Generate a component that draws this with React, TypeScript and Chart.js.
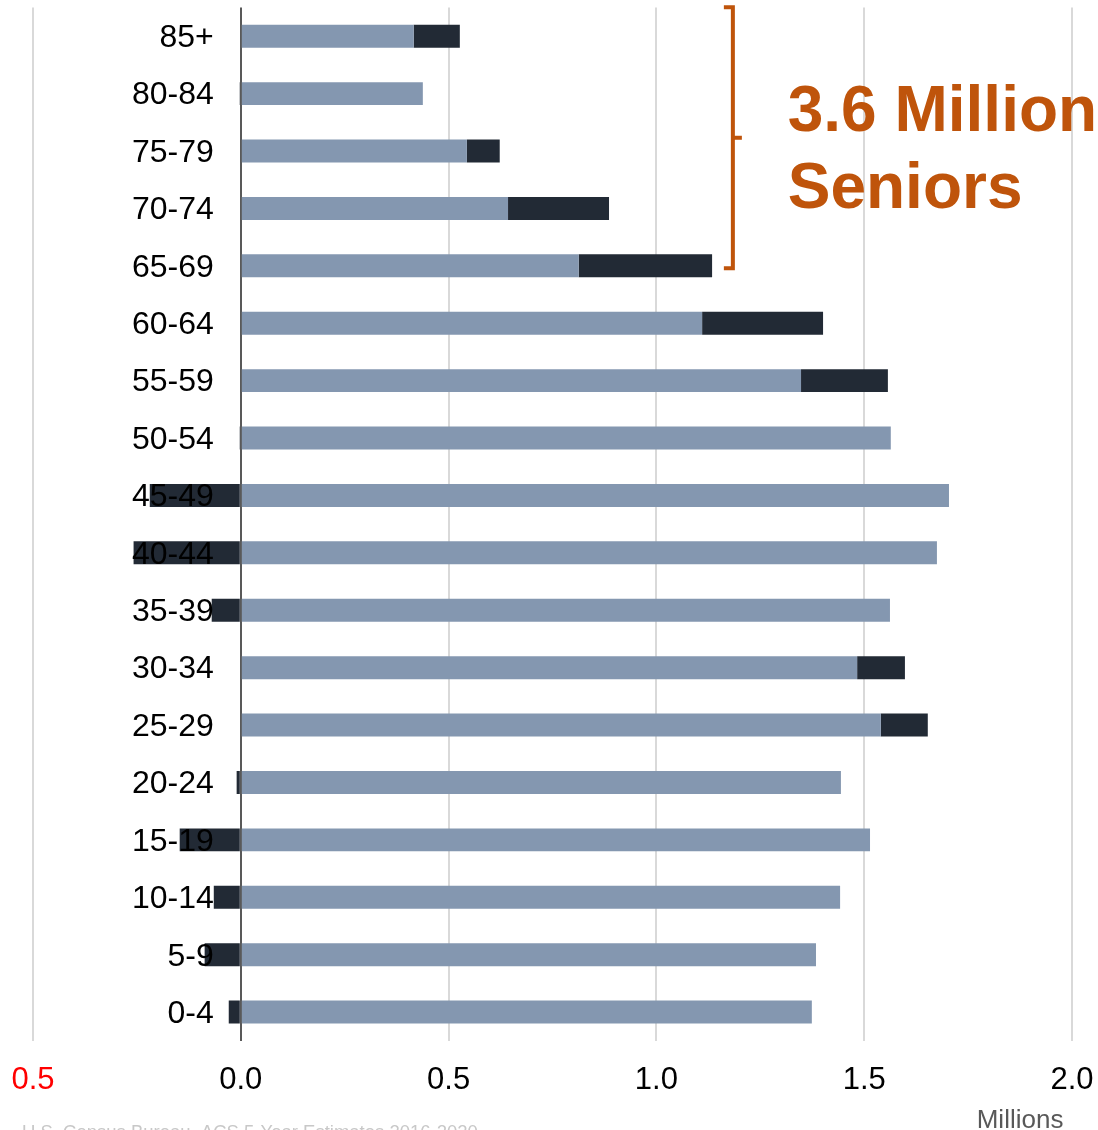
import { useEffect, useRef } from "react";
import { Chart, registerables } from "chart.js";

Chart.register(...registerables);

// Age groups, top to bottom
const ageGroups = [
  "85+", "80-84", "75-79", "70-74", "65-69", "60-64", "55-59", "50-54", "45-49",
  "40-44", "35-39", "30-34", "25-29", "20-24", "15-19", "10-14", "5-9", "0-4",
];
// Base population (millions)
const baseValues = [
  0.416, 0.438, 0.544, 0.643, 0.813, 1.11, 1.348, 1.564, 1.704,
  1.675, 1.562, 1.483, 1.54, 1.444, 1.514, 1.442, 1.384, 1.374,
];
// Change (millions), negative values extend left of zero
const changeValues = [
  0.111, -0.003, 0.079, 0.243, 0.321, 0.291, 0.209, -0.003, -0.219,
  -0.258, -0.07, 0.115, 0.113, -0.01, -0.147, -0.065, -0.087, -0.029,
];
const xTickValues = [-0.5, 0, 0.5, 1.0, 1.5, 2.0];

const calloutLines = ["3.6 Million", "Seniors"];
const bracketFromGroup = "85+";
const bracketToGroup = "65-69";
const bracketXValue = 1.184;
const calloutXValue = 1.316;
const axisTitle = "Millions";
const sourceText = "U.S. Census Bureau, ACS 5-Year Estimates 2016-2020";

const FONT = "'Liberation Sans', Arial, Helvetica, sans-serif";
const ORANGE = "#bf540b";

const overlayPlugin = {
  id: "overlay",
  afterDatasetsDraw(chart: any) {
    const { ctx, scales } = chart;
    const xs = scales.x;
    const ys = scales.y;
    const zeroX = xs.getPixelForValue(0);
    ctx.save();
    // y labels drawn on top of bars
    ctx.font = `32px ${FONT}`;
    ctx.fillStyle = "#000000";
    ctx.textAlign = "right";
    ctx.textBaseline = "middle";
    ageGroups.forEach((g, i) => {
      const y = ys.getPixelForValue(i);
      ctx.fillText(g, zeroX - 27, y + 2);
    });

    // bracket
    const iTop = ageGroups.indexOf(bracketFromGroup);
    const iBot = ageGroups.indexOf(bracketToGroup);
    const yTop = ys.getPixelForValue(iTop) - 29;
    const yBot = ys.getPixelForValue(iBot) + 2.5;
    const bx = xs.getPixelForValue(bracketXValue);
    const yMid = (yTop + yBot) / 2;
    ctx.strokeStyle = ORANGE;
    ctx.lineWidth = 4;
    ctx.lineJoin = "miter";
    ctx.beginPath();
    ctx.moveTo(bx - 9, yTop);
    ctx.lineTo(bx, yTop);
    ctx.lineTo(bx, yBot);
    ctx.lineTo(bx - 9, yBot);
    ctx.stroke();
    ctx.beginPath();
    ctx.moveTo(bx, yMid);
    ctx.lineTo(bx + 9, yMid);
    ctx.stroke();

    // callout text
    const tx = xs.getPixelForValue(calloutXValue);
    ctx.font = `bold 64px ${FONT}`;
    ctx.fillStyle = ORANGE;
    ctx.textAlign = "left";
    ctx.textBaseline = "alphabetic";
    ctx.fillText(calloutLines[0], tx, yMid - 7);
    ctx.fillText(calloutLines[1], tx, yMid + 70);

    // axis title
    ctx.font = `26px ${FONT}`;
    ctx.fillStyle = "#595959";
    ctx.textAlign = "center";
    ctx.textBaseline = "middle";
    ctx.fillText(axisTitle, xs.getPixelForValue(1.875), chart.height - 9);

    // source
    ctx.font = `18.5px ${FONT}`;
    ctx.fillStyle = "#c8c8c8";
    ctx.textAlign = "left";
    ctx.textBaseline = "alphabetic";
    ctx.fillText(sourceText, 22, chart.height + 8);
    ctx.restore();
  },
};

export default function App() {
  const canvasRef = useRef<HTMLCanvasElement | null>(null);

  useEffect(() => {
    if (!canvasRef.current) return;
    const chart = new Chart(canvasRef.current, {
      type: "bar",
      data: {
        labels: ageGroups,
        datasets: [
          {
            label: "Base",
            data: baseValues,
            backgroundColor: "#8497b0",
            borderWidth: 0,
            barPercentage: 0.4,
            categoryPercentage: 1,
          },
          {
            label: "Change",
            data: changeValues,
            backgroundColor: "#222a35",
            borderWidth: 0,
            barPercentage: 0.4,
            categoryPercentage: 1,
          },
        ],
      },
      options: {
        indexAxis: "y",
        responsive: false,
        animation: false,
        devicePixelRatio: 1,
        layout: { padding: { left: 33, right: 26, top: 7.5, bottom: 10 } },
        plugins: {
          legend: { display: false },
          tooltip: { enabled: false },
        },
        scales: {
          x: {
            type: "linear",
            stacked: true,
            min: -0.5,
            max: 2.0,
            afterBuildTicks: (scale: any) => {
              scale.ticks = xTickValues.map((v) => ({ value: v }));
            },
            afterFit: (scale: any) => {
              scale.paddingLeft = 0;
              scale.paddingRight = 0;
            },
            ticks: {
              callback: (v: any) => Math.abs(Number(v)).toFixed(1),
              color: (c: any) => (c.tick && c.tick.value < 0 ? "#ff0000" : "#000000"),
              font: { family: FONT, size: 31 },
              padding: 21,
              maxRotation: 0,
              autoSkip: false,
            },
            grid: {
              color: (c: any) => (c.tick && c.tick.value === 0 ? "#595959" : "#d9d9d9"),
              lineWidth: 2,
              drawTicks: false,
            },
            border: { display: false },
          },
          y: {
            type: "category",
            stacked: true,
            display: false,
            offset: true,
          },
        },
      },
      plugins: [overlayPlugin],
    } as any);
    return () => chart.destroy();
  }, []);

  return (
    <div style={{ position: "fixed", left: 0, top: 0, width: 1098, height: 1130, background: "#fff" }}>
      <canvas ref={canvasRef} width={1098} height={1130} style={{ display: "block" }} />
    </div>
  );
}
